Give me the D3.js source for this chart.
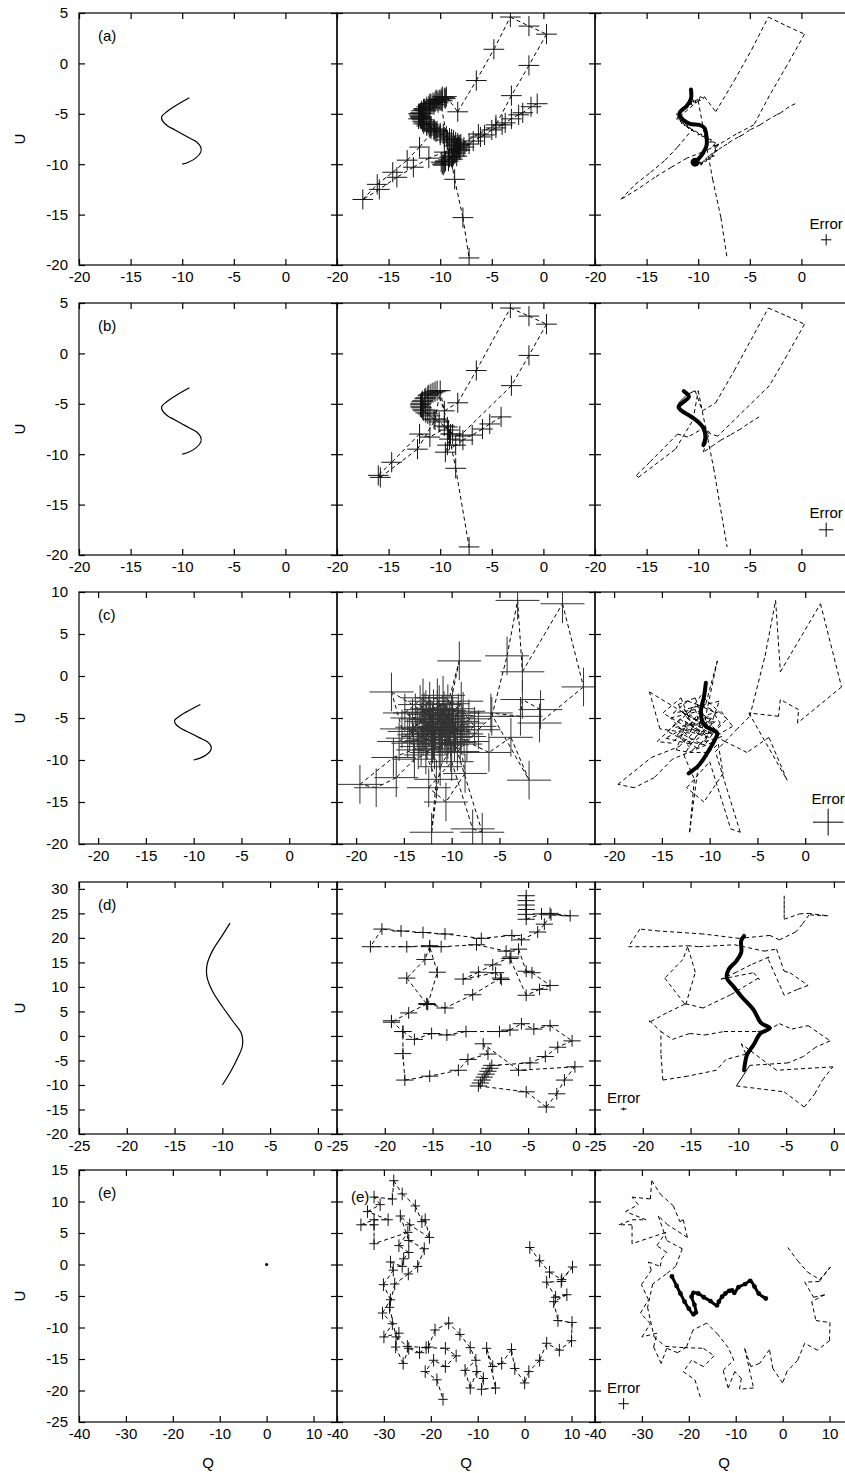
<!DOCTYPE html>
<html>
<head>
<meta charset="utf-8">
<script src="https://cdn.jsdelivr.net/npm/d3@7/dist/d3.min.js"></script>
<style>
html,body{margin:0;padding:0;background:#fff;}
svg text{font-family:"Liberation Sans",Arial,Helvetica,sans-serif;}
</style>
</head>
<body>
<svg id="chart" width="845" height="1473"></svg>
<script>
// ================= DATA =================
const rowTags = ["(a)","(b)","(c)","(d)","(e)"];
const qDomains = [[-20,5],[-20,5],[-22,5],[-25,2],[-40,15]];
const uDomains = [[-20,5],[-20,5],[-20,10],[-20,31.4],[-25,15]];
const qTicks = [
  [-20,-15,-10,-5,0],
  [-20,-15,-10,-5,0],
  [-20,-15,-10,-5,0],
  [-25,-20,-15,-10,-5,0],
  [-40,-30,-20,-10,0,10]
];
const uTicks = [
  [5,0,-5,-10,-15,-20],
  [5,0,-5,-10,-15,-20],
  [10,5,0,-5,-10,-15,-20],
  [30,25,20,15,10,5,0,-5,-10,-15,-20],
  [15,10,5,0,-5,-10,-15,-20,-25]
];
const xTitle = "Q";
const yTitle = "U";
const legendWord = "Error";

// model curves (left column)
const modelS = [[-9.3,-3.4],[-10.0,-3.8],[-10.8,-4.3],[-11.5,-4.8],[-12.0,-5.3],[-11.9,-5.7],[-11.4,-6.2],[-10.7,-6.6],[-10.0,-7.0],[-9.3,-7.4],[-8.6,-7.8],[-8.2,-8.3],[-8.2,-8.8],[-8.7,-9.4],[-9.4,-9.8],[-10.0,-10.0]];
const modelD = [[-9.2,23.0],[-10.0,20.5],[-11.0,17.5],[-11.6,14.5],[-11.6,12.0],[-11.0,9.0],[-10.0,6.0],[-8.9,3.0],[-8.0,0.5],[-7.9,-2.0],[-8.4,-4.5],[-9.2,-7.5],[-10.0,-10.0]];
const modelE = [[0,0]];

// observed points (middle column with error bars, right column dashed)
const obsA = [[-0.6,-4.0],[-1.2,-4.3],[-2.0,-4.9],[-2.4,-5.1],[-3.1,-5.5],[-3.7,-5.9],[-4.0,-6.1],[-4.6,-6.4],[-5.0,-6.6],[-5.7,-7.1],[-6.1,-7.3],[-6.8,-7.7],[-7.2,-8.0],[-7.7,-8.3],[-8.1,-8.6],[-8.6,-8.9],[-9.1,-9.3],[-9.5,-9.7],[-9.8,-10.0],[-9.6,-9.9],[-9.9,-9.8],[-9.7,-10.1],
[-9.5,-9.7],[-9.2,-9.7],[-9.2,-9.5],[-8.8,-9.5],[-8.9,-9.3],[-8.4,-9.2],[-8.7,-9.1],[-8.5,-8.9],[-8.1,-8.6],[-8.4,-8.7],[-8.3,-8.5],[-8.4,-8.4],[-8.2,-8.3],[-8.0,-8.0],[-8.2,-8.1],[-8.6,-8.2],[-8.3,-7.9],[-8.5,-7.8],[-8.9,-7.8],[-8.7,-7.6],[-8.9,-7.5],[-9.3,-7.6],[-9.1,-7.4],[-9.4,-7.2],[-9.6,-7.3],[-9.7,-7.0],[-10.0,-7.1],[-10.0,-6.9],[-10.3,-6.7],[-10.4,-6.8],[-10.6,-6.5],[-10.5,-6.7],[-10.9,-6.3],[-10.9,-6.5],[-11.1,-6.1],[-11.0,-6.4],[-11.3,-6.0],[-11.3,-6.2],[-11.5,-5.8],[-11.6,-6.0],[-11.7,-5.6],[-11.7,-5.8],[-11.8,-5.5],[-12.1,-5.5],[-11.9,-5.3],[-11.9,-5.4],[-12.0,-5.2],[-12.1,-5.0],[-12.0,-5.0],[-11.7,-5.0],[-11.9,-4.9],[-11.8,-4.7],[-11.6,-4.5],[-11.6,-4.6],[-11.4,-4.7],[-11.5,-4.5],[-11.3,-4.3],[-11.0,-4.4],[-11.1,-4.2],[-11.0,-4.0],[-10.9,-4.0],[-10.6,-4.1],[-10.7,-3.9],[-10.4,-3.6],[-10.5,-3.8],[-10.2,-3.9],[-10.3,-3.7],[-10.1,-3.6],[-9.8,-3.7],[-9.9,-3.5],[-9.8,-3.3],[-9.6,-3.4],[-9.5,-3.5],[-9.4,-3.3],
[-8.3,-4.8],[-6.5,-1.7],[-4.8,1.4],[-3.2,4.6],[-1.4,3.7],[0.3,2.9],[-1.4,-0.2],[-3.1,-3.2],[-4.6,-6.1],[-6.3,-7.0],[-8.1,-8.1],[-9.6,-8.8],[-11.1,-9.4],[-12.6,-10.3],[-14.2,-11.3],[-15.9,-12.5],[-17.5,-13.5],[-16.1,-12.0],[-14.6,-10.8],[-13.2,-9.6],[-12.0,-8.3],[-10.6,-6.6],[-11.8,-5.3],[-10.0,-3.7],[-8.6,-11.5],[-7.8,-15.3],[-7.2,-19.3]];

const obsB = [[-4.1,-6.3],[-5.2,-7.0],[-5.9,-7.5],[-6.9,-8.1],[-7.8,-8.6],[-8.5,-9.1],[-9.5,-9.8],
[-9.3,-9.1],[-9.1,-8.5],[-9.0,-8.0],[-9.2,-7.6],[-9.6,-7.2],[-10.1,-6.8],[-10.6,-6.5],[-11.0,-6.2],[-11.2,-6.0],[-11.4,-5.9],[-11.6,-5.7],[-11.7,-5.6],[-11.8,-5.4],[-11.9,-5.3],[-11.9,-5.1],[-11.9,-5.0],[-11.8,-4.8],[-11.7,-4.7],[-11.5,-4.5],[-11.4,-4.4],[-11.2,-4.2],[-11.1,-4.1],[-10.9,-4.0],[-10.7,-3.9],[-10.5,-3.8],[-10.3,-3.7],
[-9.6,-5.7],[-8.3,-4.9],[-6.5,-1.7],[-3.2,4.5],[-1.4,3.7],[0.3,2.9],[-1.4,-0.2],[-3.1,-3.2],[-8.1,-8.2],[-8.8,-8.0],[-9.3,-7.3],[-11.0,-8.3],[-12.0,-8.0],[-14.7,-10.8],[-16.0,-12.1],[-15.8,-12.3],[-12.2,-9.5],[-10.5,-6.6],[-10.0,-3.7],[-8.5,-11.4],[-7.2,-19.2]];

const obsC = [[-11.0,-6.5],[-12.6,-5.4],[-10.1,-7.3],[-13.6,-6.1],[-9.4,-5.4],[-11.9,-7.6],[-14.1,-5.0],[-10.8,-4.1],[-12.1,-6.8],[-15.2,-6.3],[-16.3,-1.9],[-12.4,-4.6],[-9.8,-6.4],[-11.3,-8.6],[-13.0,-7.2],[-10.4,-3.3],[-9.2,1.8],[-10.6,-5.8],[-12.7,-9.4],[-11.6,-12.3],[-12.1,-18.6],[-11.2,-10.8],[-9.7,-7.9],[-13.9,-9.9],[-15.8,-12.1],[-17.9,-13.3],[-19.6,-12.9],[-16.1,-9.7],[-13.2,-8.4],[-11.0,-6.0],
[-11.5,-4.0],[-13.8,-4.4],[-12.3,-3.0],[-9.9,-3.9],[-8.9,-5.6],[-10.5,-8.2],[-12.6,-7.7],[-14.4,-6.6],[-13.1,-5.1],[-11.2,-6.9],[-9.6,-6.8],[-8.2,-5.1],[-10.9,-2.3],[-11.9,-3.9],[-13.5,-8.8],[-12.1,-9.1],[-10.1,-9.1],[-9.1,-8.1],
[-8.6,-11.6],[-10.6,-15.0],[-12.4,-13.3],[-10.0,-10.2],[-7.8,-18.2],[-6.8,-18.6],[-9.4,-9.0],[-7.2,-6.4],[-5.8,-4.8],[-4.2,2.4],[-3.1,9.0],[-2.6,0.5],[1.6,8.6],[3.8,-1.3],[-0.8,-5.6],[-0.7,-4.0],[-2.6,-2.8],[-2.8,-4.8],[-5.9,-4.4],[-1.9,-12.4],[-3.8,-7.3],[-6.1,-9.1],[-8.4,-7.8],[-10.3,-6.6],[-12.2,-5.2],[-13.3,-3.4],[-11.5,-2.6],[-10.9,-4.8],[-8.8,-4.2],[-7.6,-6.0],[-9.0,-6.9],[-12.8,-6.3],[-14.6,-7.4],[-12.0,-8.1],[-10.7,-7.0],[-9.9,-5.0],[-11.4,-5.2],[-12.9,-4.3],[-10.2,-6.1],
[-10.6,-4.5],[-12.4,-6.1],[-14.9,-4.4],[-13.0,-2.6],[-11.7,-6.4],[-10.2,-5.4],[-8.7,-7.2],[-11.0,-8.0],[-12.9,-6.9],[-14.0,-8.0],[-15.5,-7.8],[-11.3,-3.4],[-9.3,-4.4],[-10.7,-6.2],[-12.0,-5.6],[-13.4,-7.0],[-11.8,-8.8],[-10.4,-7.6],[-9.0,-3.0],[-12.7,-4.0],[-11.1,-5.5],[-10.0,-4.7]];

const obsD = [[-5.2,28.6],[-5.2,27.6],[-5.2,26.7],[-5.2,25.8],[-5.2,24.8],[-5.2,23.8],[-3.6,24.9],[-2.7,25.0],[-0.6,24.5],[-2.6,24.7],[-3.3,22.8],[-4.0,21.2],[-5.7,19.6],[-6.7,20.5],[-9.9,19.9],[-13.7,20.8],[-16.0,21.1],[-18.3,21.4],[-20.3,21.8],[-21.5,18.2],[-17.7,18.2],[-15.3,18.4],[-14.1,18.2],[-10.4,18.6],[-7.3,17.3],[-6.0,17.7],[-5.2,13.2],[-4.6,12.9],[-2.7,10.3],[-3.8,9.5],[-5.2,8.3],[-6.9,15.8],[-6.8,16.1],[-8.7,14.5],[-10.2,13.0],[-11.8,11.6],[-8.4,12.9],[-7.8,11.5],[-7.9,11.8],[-10.8,8.4],[-13.7,5.7],[-15.6,6.6],[-15.5,6.4],[-14.5,13.0],[-15.3,18.2],[-15.8,15.6],[-17.7,11.8],[-15.6,6.5],[-17.5,4.7],[-19.3,2.8],[-19.3,3.1],[-18.1,0.9],[-16.9,-0.7],[-15.1,0.5],[-13.5,0.2],[-11.5,0.9],[-8.0,0.9],[-6.9,1.2],[-5.7,2.5],[-4.4,1.4],[-2.7,2.1],[-0.4,-1.0],[-1.9,-2.3],[-3.2,-4.2],[-4.8,-5.5],[-8.8,-6.0],[-9.0,-6.6],[-9.2,-7.2],[-9.4,-7.8],[-9.6,-8.4],[-9.8,-9.0],[-10.0,-9.6],[-10.2,-10.2],[-5.2,-11.4],[-3.1,-14.5],[-2.0,-11.8],[-1.2,-9.0],[-0.1,-6.3],[-6.0,-7.0],[-9.7,-1.6],[-9.2,-3.7],[-11.3,-4.8],[-12.3,-7.0],[-15.3,-8.2],[-17.9,-9.0],[-18.1,-3.6],[-18.1,0.9]];

const obsE = [[1.1,2.7],[3.2,0.6],[5.3,-1.2],[7.9,-2.4],[10.2,-0.4],[7.8,-2.7],[4.7,-2.8],[6.6,-5.2],[9.0,-4.8],[6.2,-5.9],[7.1,-8.9],[10.1,-9.2],[10.0,-12.1],[7.4,-13.6],[4.7,-12.5],[3.2,-15.2],[0.9,-17.0],[0.0,-18.8],[-2.1,-16.5],[-2.8,-13.5],[-4.9,-15.7],[-6.8,-16.2],[-8.1,-13.3],[-6.2,-19.6],[-9.2,-19.8],[-8.8,-18.1],[-10.2,-17.0],[-11.6,-19.6],[-12.7,-16.8],[-10.4,-15.2],[-11.6,-13.2],[-13.8,-11.1],[-16.2,-9.3],[-19.1,-10.4],[-20.5,-13.1],[-22.4,-14.0],[-24.7,-13.3],[-25.9,-15.7],[-27.5,-13.1],[-26.8,-10.9],[-30.0,-11.5],[-28.2,-9.4],[-30.3,-7.7],[-28.6,-5.6],[-30.1,-3.2],[-28.0,-0.9],[-28.6,0.4],[-26.1,-0.3],[-25.8,0.9],[-24.7,1.9],[-26.8,3.0],[-24.9,5.1],[-32.1,3.3],[-32.1,6.3],[-34.9,6.3],[-32.1,7.1],[-29.1,7.1],[-33.5,8.4],[-30.8,9.5],[-32.1,10.7],[-28.2,10.4],[-27.9,13.3],[-26.1,11.2],[-23.3,9.3],[-21.9,6.8],[-21.2,7.1],[-20.3,4.3],[-24.5,6.3],[-26.5,7.7],[-24.7,3.8],[-21.4,2.5],[-22.8,-0.3],[-24.8,-1.5],[-27.7,-3.1],[-28.8,-6.8],[-27.4,-11.5],[-25.0,-13.0],[-21.0,-13.2],[-16.9,-13.3],[-14.6,-14.5],[-16.9,-16.2],[-19.4,-15.2],[-21.2,-17.0],[-18.7,-18.3],[-17.4,-21.4]];

// reconstructions (right column thick line)
const recA = [[-10.3,-9.8],[-10.0,-9.5],[-9.6,-9.0],[-9.2,-8.2],[-9.2,-7.2],[-9.4,-6.4],[-9.9,-6.1],[-10.8,-6.0],[-11.7,-5.3],[-11.8,-4.9],[-11.1,-4.2],[-10.7,-3.5],[-10.7,-2.6]];
const recB = [[-9.5,-9.1],[-9.3,-8.3],[-9.5,-7.4],[-10.0,-6.8],[-10.8,-6.2],[-11.6,-5.7],[-11.9,-5.3],[-11.4,-4.8],[-10.9,-4.3],[-11.4,-3.75]];
const recC = [[-10.4,-0.8],[-10.6,-2.5],[-10.9,-4.0],[-10.8,-5.3],[-10.4,-6.0],[-9.7,-6.4],[-9.2,-6.8],[-9.5,-7.7],[-10.0,-8.7],[-10.6,-9.8],[-11.2,-10.7],[-12.2,-11.6]];
const recD = [[-9.4,20.4],[-9.7,19.4],[-9.7,17.0],[-10.2,15.3],[-11.0,13.6],[-11.2,11.8],[-10.5,10.1],[-9.7,8.1],[-8.4,5.3],[-7.6,2.6],[-6.7,1.6],[-7.7,0.5],[-8.4,-1.8],[-9.1,-3.9],[-9.3,-5.6],[-9.4,-7.0]];
const recE = [[-23.6,-1.9],[-22.6,-3.4],[-21.8,-4.6],[-20.9,-5.9],[-20.0,-7.0],[-19.0,-7.9],[-18.5,-7.6],[-18.8,-6.4],[-19.4,-5.1],[-19.0,-4.5],[-18.0,-4.6],[-16.8,-5.2],[-15.4,-5.8],[-14.0,-6.5],[-13.6,-5.9],[-12.9,-5.1],[-12.2,-4.6],[-11.4,-4.2],[-10.8,-4.1],[-10.3,-4.5],[-9.4,-3.6],[-8.0,-3.1],[-6.9,-2.6],[-6.0,-3.5],[-5.1,-4.6],[-3.6,-5.4]];
const blobA = [[-10.3,-9.8]];

// error bar half-sizes per row
const errQ = [1.0,1.0,2.3,0.9,1.0];
const errU = [1.0,1.0,2.3,1.2,1.0];
// legend error cross per row: [Q, U, dQ, dU]
const legendErr = [[2.4,-17.5,0.5,0.55],[2.4,-17.5,0.7,0.7],[2.4,-17.4,1.6,1.6],[-22.0,-14.9,0.3,0.3],[-33.9,-22.1,1.1,0.9]];

// ================= LAYOUT =================
const colX = [79, 337, 595];
const pw = 258;
const rowY = [13, 303, 592, 882, 1170];
const ph = 252;
const fontSize = 15;
const tickLen = 6;
const fmt = d => String(d);

const models = [modelS, modelS, modelS, modelD, modelE];
const obs = [obsA, obsB, obsC, obsD, obsE];
const recs = [recA, recB, recC, recD, recE];

const svg = d3.select("#chart");
const defs = svg.append("defs");

function dashedSegments(g, pts, x, y, dash) {
  for (let i = 1; i < pts.length; i++) {
    g.append("line")
      .attr("x1", x(pts[i-1][0])).attr("y1", y(pts[i-1][1]))
      .attr("x2", x(pts[i][0])).attr("y2", y(pts[i][1]))
      .attr("stroke", "#000").attr("stroke-width", 1)
      .attr("stroke-dasharray", dash);
  }
}
function crosses(g, pts, x, y, dq, du, color) {
  let d = "";
  pts.forEach(p => {
    d += `M${x(p[0]-dq)},${y(p[1])}H${x(p[0]+dq)}M${x(p[0])},${y(p[1]-du)}V${y(p[1]+du)}`;
  });
  g.append("path").attr("d", d).attr("fill", "none").attr("stroke", color).attr("stroke-width", 1);
}

rowTags.forEach((tag, r) => {
  const y = d3.scaleLinear().domain(uDomains[r]).range([rowY[r] + ph, rowY[r]]);
  for (let c = 0; c < 3; c++) {
    const x = d3.scaleLinear().domain(qDomains[r]).range([colX[c], colX[c] + pw]);
    const id = `clip${r}_${c}`;
    defs.append("clipPath").attr("id", id).append("rect")
      .attr("x", colX[c]).attr("y", rowY[r]).attr("width", pw).attr("height", ph);
    const g = svg.append("g");
    const plot = g.append("g").attr("clip-path", `url(#${id})`);

    if (c === 0) {
      const m = models[r];
      if (m.length > 1) {
        plot.append("path").datum(m)
          .attr("d", d3.line().x(d => x(d[0])).y(d => y(d[1])).curve(d3.curveCatmullRom))
          .attr("fill", "none").attr("stroke", "#000").attr("stroke-width", 1.2);
      } else {
        plot.selectAll("circle.m").data(m).join("circle")
          .attr("cx", d => x(d[0])).attr("cy", d => y(d[1])).attr("r", 1.6).attr("fill", "#000");
      }
      g.append("text").attr("x", 98).attr("y", rowY[r] + 28)
        .attr("font-size", fontSize).text(tag);
    }
    if (c === 1) {
      dashedSegments(plot, obs[r], x, y, "4,3");
      crosses(plot, obs[r], x, y, errQ[r], errU[r], r === 2 ? "#333" : "#111");
      if (r === 4) {
        g.append("text").attr("x", colX[1] + 14).attr("y", rowY[r] + 32)
          .attr("font-size", fontSize).text(tag);
      }
    }
    if (c === 2) {
      dashedSegments(plot, obs[r], x, y, "4,3");
      const rec = recs[r];
      plot.append("path").datum(rec)
        .attr("d", d3.line().x(d => x(d[0])).y(d => y(d[1])).curve(d3.curveCatmullRom))
        .attr("fill", "none").attr("stroke", "#000")
        .attr("stroke-width", r === 4 ? 3 : 4)
        .attr("stroke-linejoin", "round").attr("stroke-linecap", "round");
      if (r === 4) {
        plot.selectAll("circle.rd").data(rec).join("circle")
          .attr("cx", d => x(d[0])).attr("cy", d => y(d[1])).attr("r", 2.4).attr("fill", "#000");
      }
      if (r === 0) {
        plot.selectAll("circle.bl").data(blobA).join("circle")
          .attr("cx", d => x(d[0])).attr("cy", d => y(d[1])).attr("r", 4.5).attr("fill", "#000");
      }
      const le = legendErr[r];
      crosses(plot, [le], x, y, le[2], le[3], "#000");
      plot.append("text")
        .attr("x", x(le[0])).attr("y", y(le[1] + le[3]) - 5)
        .attr("text-anchor", "middle").attr("font-size", fontSize).text(legendWord);
    }

    // frame
    g.append("rect").attr("x", colX[c]).attr("y", rowY[r]).attr("width", pw).attr("height", ph)
      .attr("fill", "none").attr("stroke", "#000").attr("stroke-width", 1.2);

    // axes (inward ticks on all sides)
    const bottom = g.append("g").attr("transform", `translate(0,${rowY[r] + ph})`)
      .call(d3.axisBottom(x).tickValues(qTicks[r]).tickSizeInner(-tickLen).tickSizeOuter(0).tickPadding(6.5).tickFormat(fmt));
    const top = g.append("g").attr("transform", `translate(0,${rowY[r]})`)
      .call(d3.axisTop(x).tickValues(qTicks[r]).tickSizeInner(-tickLen).tickSizeOuter(0).tickFormat(""));
    const right = g.append("g").attr("transform", `translate(${colX[c] + pw},0)`)
      .call(d3.axisRight(y).tickValues(uTicks[r]).tickSizeInner(-tickLen).tickSizeOuter(0).tickFormat(""));
    const left = g.append("g").attr("transform", `translate(${colX[c]},0)`)
      .call(d3.axisLeft(y).tickValues(uTicks[r]).tickSizeInner(-tickLen).tickSizeOuter(0).tickPadding(11)
        .tickFormat(c === 0 ? fmt : ""));
    [bottom, top, right, left].forEach(a => {
      a.select(".domain").remove();
      a.attr("font-size", fontSize).attr("font-family", '"Liberation Sans",Arial,sans-serif');
      a.selectAll(".tick line").attr("stroke", "#000").attr("stroke-width", 1.2);
      a.selectAll(".tick text").attr("fill", "#000");
    });
  }
  // y title
  const yc = rowY[r] + ph / 2;
  svg.append("text").attr("transform", `translate(25,${yc}) rotate(-90)`)
    .attr("text-anchor", "middle").attr("font-size", fontSize).text(yTitle);
});

// x titles
colX.forEach((cx, c) => {
  svg.append("text").attr("x", cx + pw / 2).attr("y", 1468)
    .attr("text-anchor", "middle").attr("font-size", fontSize).text(xTitle);
});
</script>
</body>
</html>
